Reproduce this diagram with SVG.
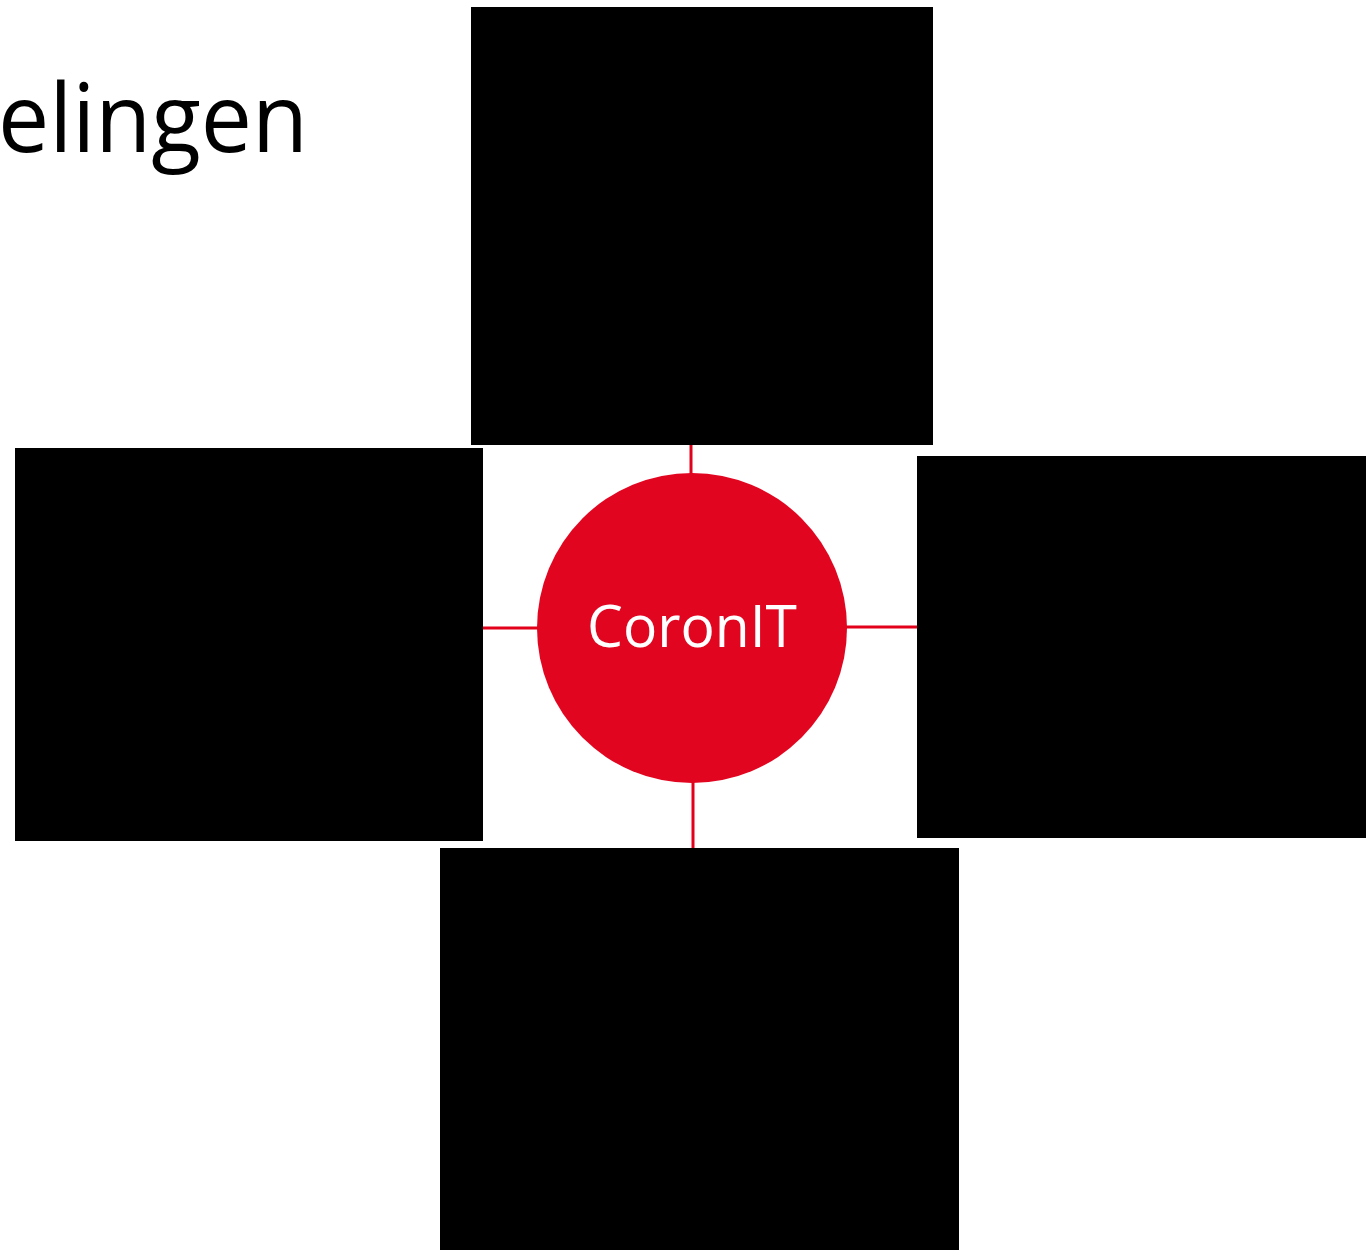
<svg xmlns="http://www.w3.org/2000/svg" width="1366" height="1250" viewBox="0 0 1366 1250">
<style>
.box{fill:#000000}
.link{stroke:#e2001a;stroke-width:3;fill:none}
.title{font-family:"Open Sans","Liberation Sans",sans-serif;fill:#000000;font-weight:500}
.hub{fill:#e20520}
.hubtxt{font-family:"Open Sans","Liberation Sans",sans-serif;fill:#ffffff;text-anchor:middle}
</style>
<rect width="1366" height="1250" fill="#ffffff"/>
<text class="title" x="-2" y="152" font-size="95" textLength="310" lengthAdjust="spacingAndGlyphs">elingen</text>
<g id="connectors">
<line class="link" x1="691" y1="445" x2="691" y2="474"/>
<line class="link" x1="483" y1="628" x2="538" y2="628"/>
<line class="link" x1="846" y1="627" x2="917" y2="627"/>
<line class="link" x1="693" y1="782" x2="693" y2="848"/>
</g>
<g id="node-top"><rect class="box" x="471" y="7" width="462" height="438"/></g>
<g id="node-left"><rect class="box" x="15" y="448" width="468" height="393"/></g>
<g id="node-right"><rect class="box" x="917" y="456" width="449" height="382"/></g>
<g id="node-bottom"><rect class="box" x="440" y="848" width="519" height="402"/></g>
<g id="node-center">
<circle class="hub" cx="692" cy="628" r="155"/>
<text class="hubtxt" x="692" y="647" font-size="58" textLength="210" lengthAdjust="spacingAndGlyphs">CoronIT</text>
</g>
</svg>
